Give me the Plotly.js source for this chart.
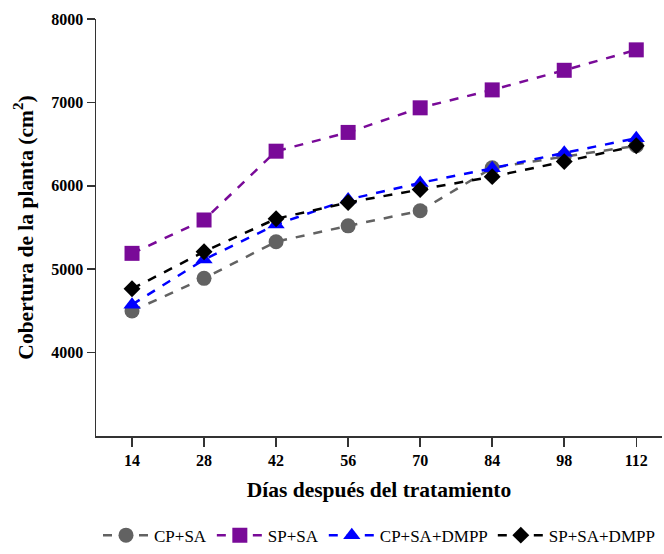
<!DOCTYPE html>
<html>
<head>
<meta charset="utf-8">
<script src="https://cdn.plot.ly/plotly-3.0.1.min.js"></script>
<style>html,body{margin:0;padding:0;background:#fff;}#chart{width:664px;height:554px;}</style>
</head>
<body>
<div id="chart"></div>
<script>
const days = [14, 28, 42, 56, 70, 84, 98, 112];
const cpSa = [4500, 4890, 5330, 5520, 5700, 6215, 6350, 6480];
const spSa = [5190, 5590, 6415, 6640, 6935, 7150, 7385, 7630];
const cpSaDmpp = [4575, 5115, 5535, 5835, 6035, 6210, 6395, 6570];
const spSaDmpp = [4765, 5210, 5605, 5800, 5955, 6110, 6290, 6480];
const seriesNames = ["CP+SA", "SP+SA", "CP+SA+DMPP", "SP+SA+DMPP"];
const yTicks = [4000, 5000, 6000, 7000, 8000];

const colors = ["#626262", "#790a98", "#0000ff", "#000000"];
const symbols = ["circle", "square", "triangle-up", "diamond"];
const sizes = [15, 15, 15, 13];
const ys = [cpSa, spSa, cpSaDmpp, spSaDmpp];

const traces = ys.map((y, i) => ({
  x: days, y: y, name: seriesNames[i], type: "scatter", mode: "lines+markers",
  line: {color: colors[i], width: 2.5, dash: "dash"},
  marker: {color: colors[i], symbol: symbols[i], size: sizes[i]}
}));

const font = {family: "Liberation Serif, Times New Roman, serif", color: "#000"};
const layout = {
  width: 664, height: 554,
  margin: {l: 96, r: 2, t: 19, b: 117},
  paper_bgcolor: "#fff", plot_bgcolor: "#fff",
  font: Object.assign({size: 17}, font),
  showlegend: true,
  legend: {orientation: "h", x: 0.5, xanchor: "center", y: -0.279, yanchor: "bottom",
    itemwidth: 46, font: Object.assign({size: 17}, font)},
  xaxis: {
    range: [7, 117], tickvals: days, ticktext: days.map(v => "<b>" + v + "</b>"),
    showgrid: false, zeroline: false, showline: true, linecolor: "#333", linewidth: 1.5,
    ticks: "outside", ticklen: 9, tickwidth: 1.5, tickcolor: "#333",
    tickfont: Object.assign({size: 16}, font),
    title: {text: "<b>Días después del tratamiento</b>", font: Object.assign({size: 21.5}, font), standoff: 14}
  },
  yaxis: {
    range: [3000, 8000], tickvals: yTicks, ticktext: yTicks.map(v => "<b>" + v + "</b>"),
    showgrid: false, zeroline: false, showline: true, linecolor: "#333", linewidth: 1.5,
    ticks: "outside", ticklen: 8, tickwidth: 1.5, tickcolor: "#333",
    tickfont: Object.assign({size: 16}, font),
    title: {text: "<b>Cobertura de la planta (cm<sup>2</sup>)</b>", font: Object.assign({size: 21.5}, font), standoff: 12}
  }
};
Plotly.newPlot("chart", traces, layout, {displayModeBar: false, staticPlot: true});
</script>
</body>
</html>
